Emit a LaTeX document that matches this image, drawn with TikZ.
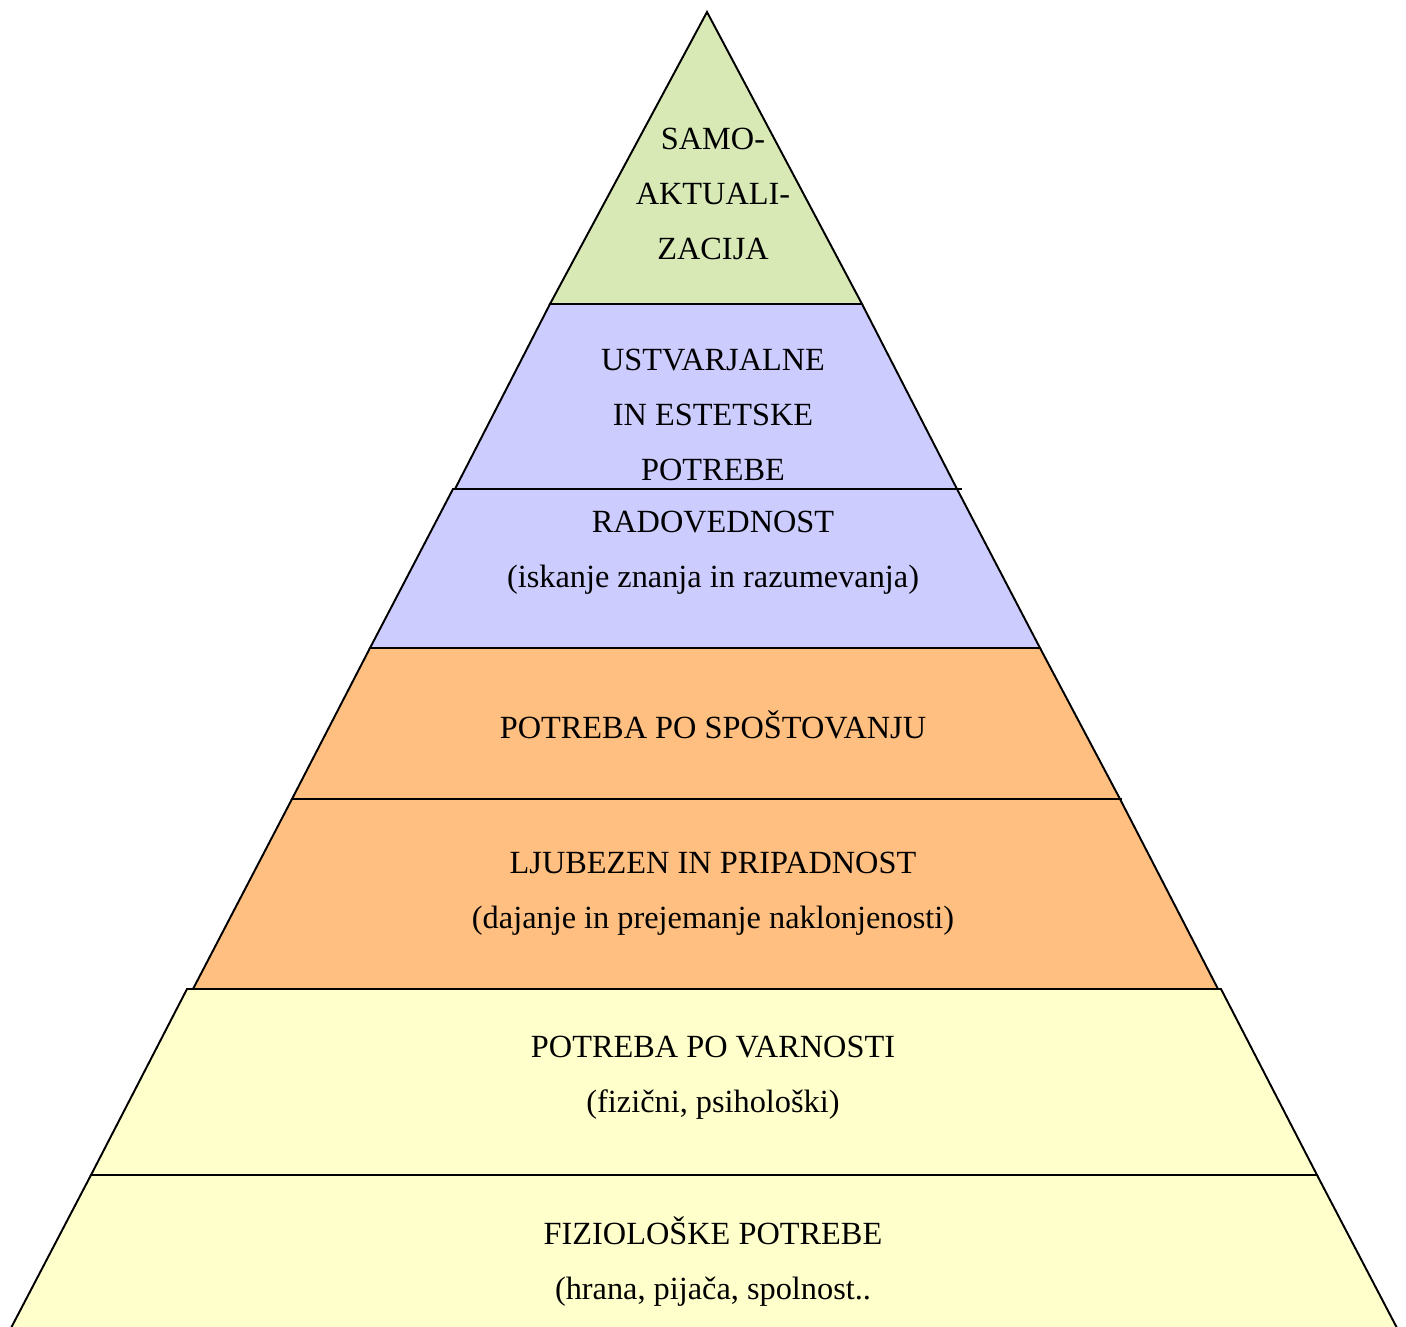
\documentclass[tikz,border=0pt]{standalone}
\usepackage{fontspec}
\setmainfont{Liberation Serif}
\definecolor{zelena}{HTML}{D8E9B6}
\definecolor{vijolicna}{HTML}{CCCCFF}
\definecolor{oranzna}{HTML}{FFBF80}
\definecolor{rumena}{HTML}{FFFFCC}

\begin{document}
\begin{tikzpicture}[x=0.02cm,y=-0.02cm,
    level/.style={draw=black,line width=1.1pt,line join=miter},
    every node/.style={align=center,inner sep=0pt,font=\fontsize{18.4}{31.3}\selectfont}]
            \useasboundingbox (0,0) rectangle (1406,1326);
            \clip (0,0) rectangle (1406,1326);

            \path [level,fill=zelena] (707,12) -- (550,304) -- (862,304) -- cycle;
            \path [level,fill=vijolicna] (550,304) -- (455,489) -- (957,489) -- (862,304) -- cycle;
            \path [level,fill=vijolicna] (453,489) -- (370,648) -- (1040,648) -- (957,489) -- cycle;
            \path [level,fill=oranzna] (370,648) -- (292,799) -- (1120,799) -- (1040,648) -- cycle;
            \path [level,fill=oranzna] (292,799) -- (193,989) -- (1218,989) -- (1120,799) -- cycle;
            \path [level,fill=rumena] (187,989) -- (91,1175) -- (1317,1175) -- (1221,989) -- cycle;
            \path [level,fill=rumena] (91,1175) -- (11,1328) -- (1397,1328) -- (1317,1175) -- cycle;
            \path [level] (453,489) -- (962,489);
            \path [level] (292,799) -- (1122,799);
            \path [level] (187,989) -- (1221,989);

            \node (samo) at (713,194) {SAMO-\\AKTUALI-\\ZACIJA};
            \node (ustv) at (713,415) {USTVARJALNE\\IN ESTETSKE\\POTREBE};
            \node (rado) at (713,553) {RADOVEDNOST\\(iskanje znanja in razumevanja)};
            \node (spos) at (713,725) {POTREBA PO SPOŠTOVANJU};
            \node (ljub) at (713,894) {LJUBEZEN IN PRIPADNOST\\(dajanje in prejemanje naklonjenosti)};
            \node (varn) at (713,1078) {POTREBA PO VARNOSTI\\(fizični, psihološki)};
            \node (fizi) at (713,1262) {FIZIOLOŠKE POTREBE\\(hrana, pijača, spolnost..};
        \end{tikzpicture}
\end{document}
